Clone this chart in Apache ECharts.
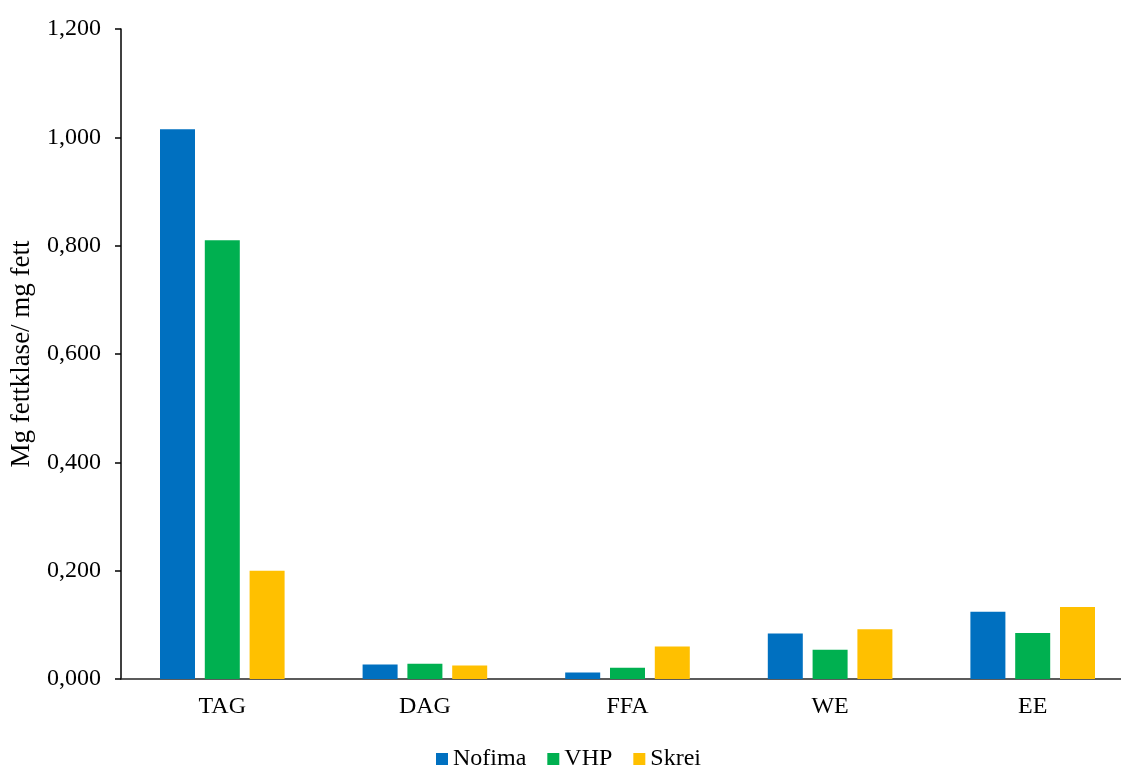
<!DOCTYPE html>
<html>
<head>
<meta charset="utf-8">
<script src="https://cdn.jsdelivr.net/npm/echarts@6/dist/echarts.min.js"></script>
<style>
  html, body { margin: 0; padding: 0; background: #fff; overflow: hidden; }
  #chart { width: 1140px; height: 767px; }
</style>
</head>
<body>
<div id="chart"></div>
<script>
// Lipid classes and amount per sample (mg lipid class / mg fat)
const categories = ['TAG', 'DAG', 'FFA', 'WE', 'EE'];
const nofima = [1.015, 0.027, 0.012, 0.084, 0.124];
const vhp    = [0.810, 0.028, 0.021, 0.054, 0.085];
const skrei  = [0.200, 0.025, 0.060, 0.092, 0.133];
const seriesNames = ['Nofima', 'VHP', 'Skrei'];
const colors = ['#0070C0', '#00B050', '#FFC000'];

const FONT = '"Liberation Serif", "Times New Roman", serif';
const chart = echarts.init(document.getElementById('chart'));

function bar(name, data, color) {
  return {
    name: name,
    type: 'bar',
    data: data,
    barWidth: 35,
    barGap: '28%',
    itemStyle: { color: color },
    emphasis: { disabled: true }
  };
}

chart.setOption({
  animation: false,
  backgroundColor: '#fff',
  textStyle: { fontFamily: FONT, color: '#000' },
  // plot area runs a little past the right edge of the visible page
  grid: { left: 119, top: 29, bottom: 88, width: 1015, containLabel: false },
  xAxis: {
    type: 'category',
    data: categories,
    axisLine: { lineStyle: { color: '#262626', width: 1.5 } },
    axisTick: { show: false },
    axisLabel: { fontFamily: FONT, fontSize: 24, color: '#000', margin: 16 }
  },
  yAxis: {
    type: 'value',
    min: 0,
    max: 1.2,
    interval: 0.2,
    name: 'Mg fettklase/ mg fett',
    nameLocation: 'middle',
    nameGap: 86,
    nameTextStyle: { fontFamily: FONT, fontSize: 27, color: '#000' },
    axisLine: { show: true, lineStyle: { color: '#000', width: 1.5 } },
    axisTick: { show: true, length: 6, lineStyle: { color: '#000', width: 1.5 } },
    splitLine: { show: false },
    axisLabel: {
      fontFamily: FONT, fontSize: 24, color: '#000', margin: 20,
      formatter: v => v.toFixed(3).replace('.', ',')
    }
  },
  legend: {
    data: seriesNames,
    left: 431,
    top: 742,
    icon: 'rect',
    itemWidth: 12,
    itemHeight: 12,
    itemGap: 21,
    textStyle: { fontFamily: FONT, fontSize: 24, color: '#000', padding: [0, 0, 0, 0] }
  },
  series: [
    bar(seriesNames[0], nofima, colors[0]),
    bar(seriesNames[1], vhp, colors[1]),
    bar(seriesNames[2], skrei, colors[2])
  ]
});
</script>
</body>
</html>
